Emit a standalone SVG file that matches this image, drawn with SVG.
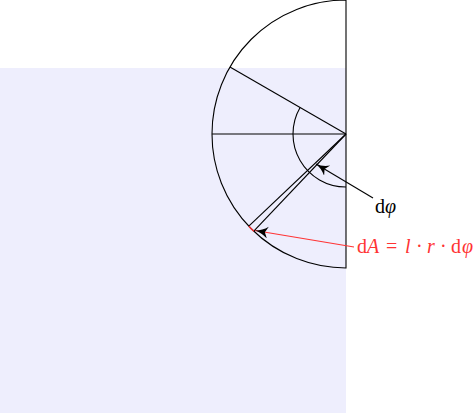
<svg xmlns="http://www.w3.org/2000/svg" width="476" height="413" viewBox="0 0 476 413">
<style>
.ln{fill:none;stroke:#000;stroke-width:1.1}
.lbl{font-family:"Liberation Serif","DejaVu Serif",serif;font-size:20px}
.it{font-style:italic}
</style>
<defs>
<marker id="ahk" markerUnits="userSpaceOnUse" markerWidth="16" markerHeight="14" refX="13" refY="6" orient="auto">
<path d="M13,6 Q6,7 0,12 L3,6 L0,0 Q6,5 13,6 Z" fill="#000"/>
</marker>
<marker id="ahr" markerUnits="userSpaceOnUse" markerWidth="16" markerHeight="14" refX="13" refY="6" orient="auto">
<path d="M13,6 Q6,7 0,12 L3,6 L0,0 Q6,5 13,6 Z" fill="#000"/>
</marker>
</defs>
<rect x="0" y="68" width="346" height="345" fill="#eeeefd"/>
<g id="halfdisk">
<path d="M346,0 A134,134 0 0 0 346,268 Z" fill="#fff" class="ln"/>
</g>
<g id="rays">
<line x1="346" y1="134" x2="212" y2="134" class="ln"/>
<line x1="346" y1="134" x2="229.95" y2="67" class="ln"/>
<line x1="346" y1="134" x2="248.8" y2="226.2" class="ln"/>
<line x1="346" y1="134" x2="253.8" y2="231.2" class="ln"/>
<path d="M300.1,107.5 A53,53 0 0 0 346,187" class="ln"/>
<path d="M248.8,226.2 A134,134 0 0 0 253.8,231.2" fill="none" stroke="#ff3333" stroke-width="1.3"/>
</g>
<g id="connectors">
<line x1="373" y1="198" x2="316" y2="164" class="ln" marker-end="url(#ahk)"/>
<line x1="354" y1="247" x2="255" y2="230.5" fill="none" stroke="#ff3333" stroke-width="1.1" marker-end="url(#ahr)"/>
</g>
<g id="label-dphi">
<text x="375" y="213" class="lbl">d<tspan class="it">φ</tspan></text>
</g>
<g id="label-dA">
<text y="253" class="lbl" fill="#ff3333"><tspan x="357">d</tspan><tspan x="367" class="it">A</tspan><tspan x="386">=</tspan><tspan x="405" class="it">l</tspan><tspan x="416">·</tspan><tspan x="427" class="it">r</tspan><tspan x="440">·</tspan><tspan x="451">d</tspan><tspan x="462" class="it">φ</tspan></text>
</g>
</svg>
